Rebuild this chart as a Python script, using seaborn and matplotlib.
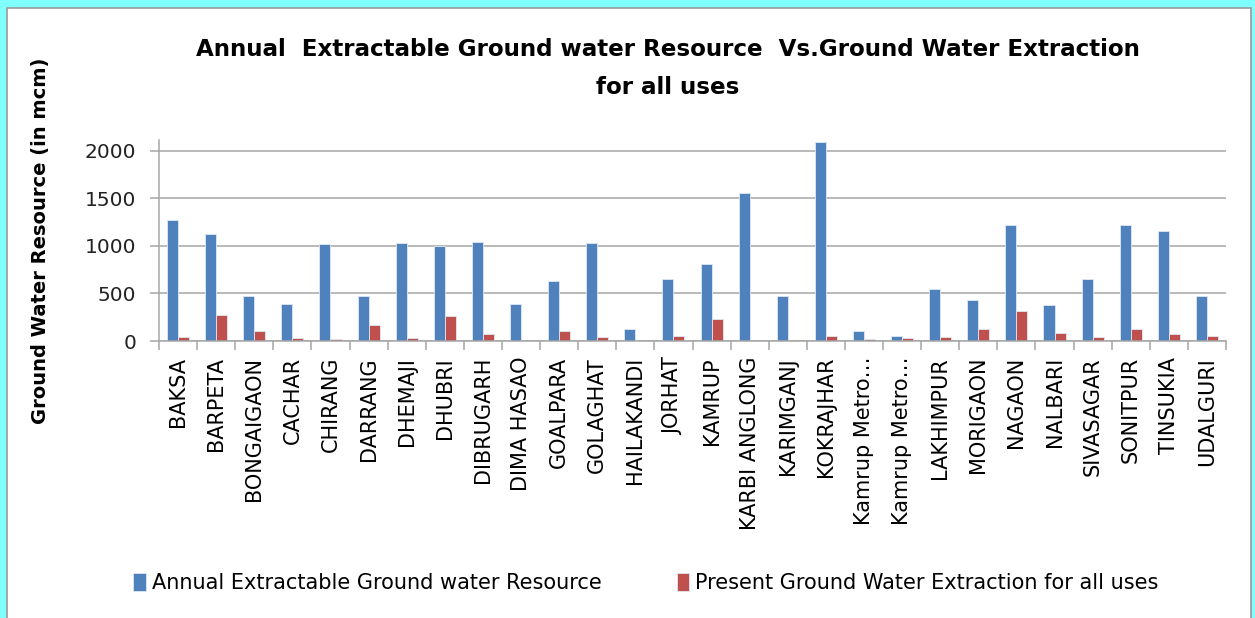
import numpy as np
import pandas as pd
import matplotlib
matplotlib.use("Agg")
import matplotlib.pyplot as plt
from matplotlib.patches import Rectangle
from matplotlib.ticker import FixedLocator
import seaborn as sns

districts = ["BAKSA", "BARPETA", "BONGAIGAON", "CACHAR", "CHIRANG", "DARRANG",
             "DHEMAJI", "DHUBRI", "DIBRUGARH", "DIMA HASAO", "GOALPARA", "GOLAGHAT",
             "HAILAKANDI", "JORHAT", "KAMRUP", "KARBI ANGLONG", "KARIMGANJ",
             "KOKRAJHAR", "Kamrup Metro\u2026", "Kamrup Metro\u2026", "LAKHIMPUR",
             "MORIGAON", "NAGAON", "NALBARI", "SIVASAGAR", "SONITPUR", "TINSUKIA",
             "UDALGURI"]
resource = [1276, 1125, 478, 394, 1016, 478, 1030, 999, 1044, 394, 636, 1030,
            123, 654, 812, 1561, 478, 2089, 109, 56, 545, 436, 1220, 383, 654,
            1220, 1153, 478]
extraction = [46, 274, 109, 32, 18, 165, 32, 260, 74, 3, 109, 42, 3, 56, 232,
              3, 3, 56, 18, 32, 46, 127, 316, 88, 46, 127, 74, 56]
series_names = ["Annual Extractable Ground water Resource",
                "Present Ground Water Extraction for all uses"]
yticks = [0, 500, 1000, 1500, 2000]

n = len(districts)
df = pd.DataFrame({
    "pos": list(range(n)) * 2,
    "value": resource + extraction,
    "series": [series_names[0]] * n + [series_names[1]] * n,
})

sns.set_style("white")
plt.rcParams["font.family"] = ["DejaVu Sans"]
plt.rcParams["text.color"] = "black"

W, H = 1255, 618
fig = plt.figure(figsize=(W / 100, H / 100), dpi=100)
fig.patch.set_facecolor("#80FFFF")
bg = Rectangle((7 / W, -0.02), (1251 - 7) / W, 1.02 - 8 / H,
               transform=fig.transFigure, facecolor="white",
               edgecolor="#9a9a9a", linewidth=1.2, zorder=-10)
fig.patches.append(bg)

left, right = 159 / W, 1226 / W
bottom, top = 1 - 341 / H, 1 - 140 / H
ax = fig.add_axes([left, bottom, right - left, top - bottom])
ax.set_zorder(5)
ax.set_facecolor("none")

sns.barplot(data=df, x="pos", y="value", hue="series", ax=ax,
            palette=["#4F81BD", "#C0504D"], width=0.58, gap=0,
            edgecolor="#dfe8f3", linewidth=0.6, saturation=1)

ax.set_xlim(-0.5, n - 0.5)
ax.set_ylim(0, 2115)
ax.set_yticks(yticks)
ax.set_yticklabels([str(v) for v in yticks])
ax.yaxis.grid(True, color="#a6a6a6", linewidth=1.1)
ax.set_axisbelow(True)

ax.set_xticks(range(n))
ax.set_xticklabels(districts, rotation=90, va="top", ha="center")
ax.xaxis.set_minor_locator(FixedLocator(np.arange(-0.5, n, 1.0)))
ax.tick_params(axis="x", which="major", length=0, pad=11.5, labelsize=15,
               labelcolor="black")
ax.tick_params(axis="x", which="minor", length=6.5, width=1.1, color="#a6a6a6",
               direction="out", bottom=True)
ax.tick_params(axis="y", which="major", length=6.5, width=1.1, color="#a6a6a6",
               direction="out", left=True, pad=10, labelsize=14.5,
               labelcolor="#222222")

for s in ["top", "right"]:
    ax.spines[s].set_visible(False)
for s in ["left", "bottom"]:
    ax.spines[s].set_color("#a6a6a6")
    ax.spines[s].set_linewidth(1.1)

ax.set_xlabel("")
ax.set_ylabel("Ground Water Resource (in mcm)", fontsize=14, fontweight="bold",
              color="black")
ax.yaxis.set_label_coords((50 - 159) / (1226 - 159), 0.5)

handles, labels = ax.get_legend_handles_labels()
ax.get_legend().remove()
leg = fig.legend(handles, labels, loc="center", bbox_to_anchor=(646 / W, 1 - 583 / H),
                 ncol=2, frameon=False, fontsize=15, handlelength=0.6,
                 handleheight=1.0, handletextpad=0.3, columnspacing=3.6)
for t in leg.get_texts():
    t.set_color("black")

fig.text(668 / W, 1 - 50 / H,
         "Annual  Extractable Ground water Resource  Vs.Ground Water Extraction",
         ha="center", va="center", fontsize=16.6, fontweight="bold", color="black")
fig.text(668 / W, 1 - 88 / H, "for all uses", ha="center", va="center",
         fontsize=16.6, fontweight="bold", color="black")

fig.savefig("out.png", dpi=100, facecolor=fig.get_facecolor())
